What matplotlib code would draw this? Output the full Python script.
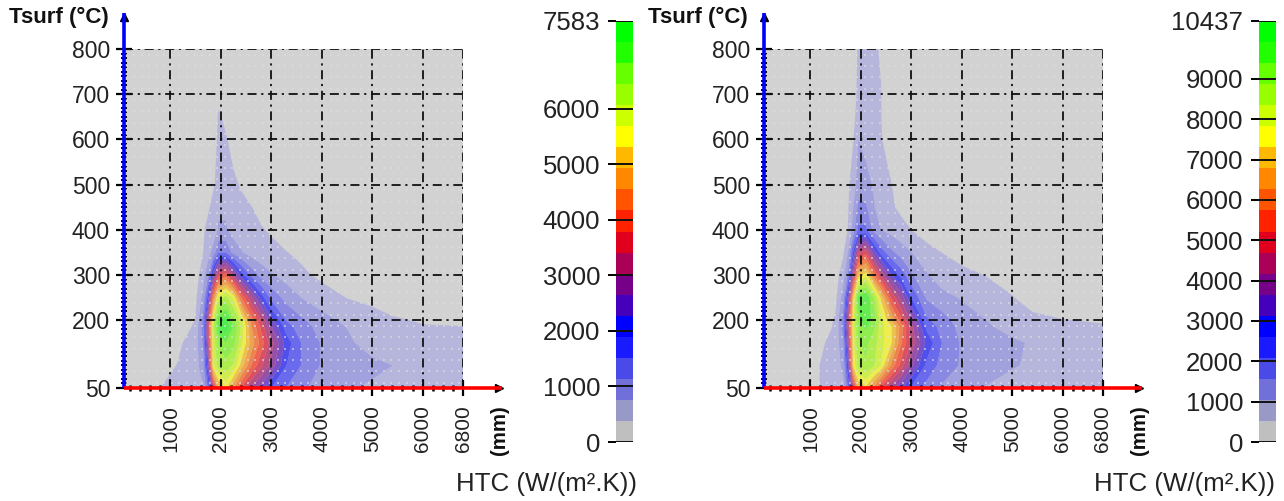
import numpy as np
import matplotlib
matplotlib.use('Agg')
import matplotlib.pyplot as plt

plt.rcParams['font.family'] = ['Liberation Sans', 'DejaVu Sans']

W, H = 1284, 501

# HTC columns, Tsurf rows of the maps
htc = [80, 800, 1150, 1500, 1650, 1750, 1850, 1950, 2100, 2250, 2400, 2600, 2800, 3000, 3300, 3600, 4000, 4500, 5000, 5400, 6000, 6800]
tsurf = [50, 100, 150, 185, 200, 250, 300, 350, 400, 450, 500, 600, 650, 700, 800]

# counts, in hundreds
left_counts = [
    [0, 3.8, 4.5, 5.5, 7.5, 16, 33, 48, 54, 46, 38, 30, 25, 19, 15, 12, 10, 8, 7, 6, 5, 5],
    [0, 2, 4, 6, 10, 26, 56, 62, 63, 60, 52, 42, 35, 29, 19, 15, 11, 9.5, 8.5, 7.6, 5, 5],
    [0, 0, 3, 6, 12, 32, 58, 65, 68, 66, 58, 48, 40, 32, 21, 15, 11, 8.3, 6, 5, 4.5, 4.5],
    [0, 0, 1.5, 4.5, 14, 35, 60, 71, 75, 68, 60, 46, 37, 27, 17, 13, 10, 7.5, 5.5, 4.5, 4, 3.9],
    [0, 0, 0.5, 4, 13, 34, 58, 70, 74, 66, 58, 44, 34, 24, 15, 12, 9, 6.5, 5, 4.2, 3.5, 3],
    [0, 0, 0, 3, 9, 21, 44, 58, 62, 56, 42, 31, 21, 14, 10, 7.5, 5.5, 3.7, 3, 2, 1, 0],
    [0, 0, 0, 2, 6, 11, 25, 36, 40, 30, 21, 14, 10, 8, 6, 4.5, 3, 1, 0, 0, 0, 0],
    [0, 0, 0, 1, 3.8, 6, 9, 15, 15, 10, 8, 6, 5, 4.5, 3.9, 3, 1, 0, 0, 0, 0, 0],
    [0, 0, 0, 0.5, 3.5, 4.5, 5.5, 8, 8, 6, 5, 4.5, 4, 3.5, 2, 0, 0, 0, 0, 0, 0, 0],
    [0, 0, 0, 0, 2.5, 3.5, 4.5, 7, 7, 4.8, 4.3, 3.9, 3, 1, 0, 0, 0, 0, 0, 0, 0, 0],
    [0, 0, 0, 0, 1, 2.5, 3.5, 4.5, 5, 4.2, 3.6, 2.5, 1, 0, 0, 0, 0, 0, 0, 0, 0, 0],
    [0, 0, 0, 0, 0, 1, 2, 4.5, 4, 3, 1, 0, 0, 0, 0, 0, 0, 0, 0, 0, 0, 0],
    [0, 0, 0, 0, 0, 0, 1, 4.2, 3.2, 1, 0, 0, 0, 0, 0, 0, 0, 0, 0, 0, 0, 0],
    [0, 0, 0, 0, 0, 0, 0, 3, 2, 0, 0, 0, 0, 0, 0, 0, 0, 0, 0, 0, 0, 0],
    [0, 0, 0, 0, 0, 0, 0, 0, 0, 0, 0, 0, 0, 0, 0, 0, 0, 0, 0, 0, 0, 0],
]

# same for the right map
right_counts = [
    [0, 2, 5, 7.5, 9, 22, 45, 68, 72, 62, 50, 40, 32, 25, 19, 15, 12.5, 10.2, 8, 7, 6.5, 6.5],
    [0, 1, 5, 7.5, 12, 32, 74, 85, 88, 84, 78, 62, 50, 38, 25, 19, 15, 12, 11, 9.5, 6.5, 6.5],
    [0, 0, 4, 7, 15, 40, 76, 88, 90, 86, 80, 74, 58, 46, 30, 21, 15, 12, 11.2, 10, 6.5, 6.5],
    [0, 0, 2, 6, 18, 45, 78, 90, 95, 90, 80, 74, 60, 44, 25, 19, 14, 11, 9, 7, 6.2, 6],
    [0, 0, 1, 6, 18, 45, 78, 92, 98, 92, 80, 68, 54, 40, 22, 18, 13, 10.4, 8, 6.5, 5.5, 4.5],
    [0, 0, 0, 4, 13, 34, 72, 96, 100, 88, 72, 52, 40, 26, 15, 12, 10, 7.5, 5.5, 3, 0, 0],
    [0, 0, 0, 3, 8, 17, 44, 70, 76, 60, 46, 32, 24, 16.5, 11, 8, 6.5, 5, 3, 0, 0, 0],
    [0, 0, 0, 2, 4.5, 11, 27, 46, 50, 34, 24, 17, 13, 10.5, 7, 5.2, 3.5, 1, 0, 0, 0, 0],
    [0, 0, 0, 1, 3, 5.5, 13, 22, 22, 14, 10.4, 8.5, 7, 5.2, 3, 1, 0, 0, 0, 0, 0, 0],
    [0, 0, 0, 0, 2, 5, 10.5, 17, 16.5, 11, 8, 6, 4, 2, 0, 0, 0, 0, 0, 0, 0, 0],
    [0, 0, 0, 0, 1.5, 4.5, 8, 13, 12, 10, 7, 5.4, 3, 1, 0, 0, 0, 0, 0, 0, 0, 0],
    [0, 0, 0, 0, 1, 3, 5, 10.5, 9, 7, 5.5, 3, 1, 0, 0, 0, 0, 0, 0, 0, 0, 0],
    [0, 0, 0, 0, 0, 1.5, 3.5, 8, 7, 6, 5.3, 2.5, 0, 0, 0, 0, 0, 0, 0, 0, 0, 0],
    [0, 0, 0, 0, 0, 1, 2.5, 7, 6.5, 5.8, 5.3, 2, 0, 0, 0, 0, 0, 0, 0, 0, 0, 0],
    [0, 0, 0, 0, 0, 0.5, 2, 6, 6, 5.6, 5, 1.5, 0, 0, 0, 0, 0, 0, 0, 0, 0, 0],
]

# bands, lowest first
band_colors = ['#bfbfbf', '#9999c8', '#7070d8', '#4a4ae8', '#1a1aff', '#0000ff', '#4400bb', '#770088', '#aa0055', '#e0001e',
               '#ff2200', '#ff5500', '#ff8800', '#ffb800', '#ffff00', '#ccff00', '#99ff00', '#66ff00', '#22ff00', '#00ff00']
# the lowest bands look bluer once laid on the grey
map_colors = ['#bfbfbf', '#a6a6e4', '#8484e6', '#5c5cee', '#2a2aff'] + band_colors[5:]

x_ticks = [1000, 2000, 3000, 4000, 5000, 6000, 6800]
y_ticks = [50, 200, 300, 400, 500, 600, 700, 800]
left_bar_ticks = [0, 1000, 2000, 3000, 4000, 5000, 6000, 7583]
right_bar_ticks = [0, 1000, 2000, 3000, 4000, 5000, 6000, 7000, 8000, 9000, 10437]

fig = plt.figure(figsize=(W / 100, H / 100), dpi=100)


def box(x0, y0, x1, y1):
    return [x0 / W, 1 - y1 / H, (x1 - x0) / W, (y1 - y0) / H]


def draw_map(x0, counts, vmax):
    ax = fig.add_axes(box(x0, 49, x0 + 339, 388))
    ax.set_facecolor('#d2d2d2')
    levels = np.linspace(0, vmax, 21)
    z = np.array(counts) * 100
    ax.contourf(htc, tsurf, z, levels=levels[1:], colors=map_colors[1:], alpha=0.62, antialiased=True, zorder=1)

    # sample points show through as faint dots
    px, py = np.meshgrid(np.arange(130, 6800, 150), np.arange(62, 800, 25))
    ax.scatter(px, py, s=2, marker='s', color='#dedede', alpha=0.6, linewidths=0, zorder=2)

    ax.set_xlim(80, 6800)
    ax.set_ylim(50, 800)
    for s in ax.spines.values():
        s.set_visible(False)

    dash = (0, (5, 2.6, 1.2, 2.6))
    ax.vlines(x_ticks, 50, 800, color='#111111', lw=1.3, linestyle=dash, zorder=3)
    ax.hlines(y_ticks[1:], 80, 6800, color='#111111', lw=1.3, linestyle=dash, zorder=3)

    ax.set_xticks(x_ticks)
    ax.set_yticks(y_ticks)
    ax.set_xticks(np.arange(200, 6800, 200), minor=True)
    ax.set_yticks(np.arange(60, 800, 10), minor=True)
    ax.tick_params(axis='x', which='major', direction='inout', length=11, width=1.6, labelsize=15, labelrotation=90, pad=7)
    ax.tick_params(axis='y', which='major', direction='inout', length=12, width=1.6, labelsize=16.5, pad=4)
    ax.tick_params(axis='x', which='minor', direction='inout', length=4, width=1.8)
    ax.tick_params(axis='y', which='minor', direction='inout', length=4.5, width=1.4)
    for t in ax.get_xticklabels() + ax.get_yticklabels():
        t.set_color('#222222')

    # the arrows of both axes run past the plot
    ax.plot([1.105], [0], marker='>', ms=5.5, color='black', transform=ax.transAxes, clip_on=False, zorder=5)
    ax.plot([0], [1.095], marker='^', ms=5.5, color='black', transform=ax.transAxes, clip_on=False, zorder=5)
    ax.plot([0, 0], [0, 1.105], color='#0000ff', lw=2.6, transform=ax.transAxes, clip_on=False, zorder=6, solid_capstyle='butt')
    ax.plot([0, 1.115], [0, 0], color='#ff0000', lw=2.6, transform=ax.transAxes, clip_on=False, zorder=7, solid_capstyle='butt')
    return ax


def draw_bar(x0, vmax, ticks):
    ax = fig.add_axes(box(x0, 21, x0 + 17, 442))
    edges = np.linspace(0, vmax, 21)
    ax.bar(np.zeros(20), np.diff(edges), bottom=edges[:-1], width=1, color=band_colors, linewidth=0)
    ax.hlines(ticks, -0.5, 0.5, color='#111111', lw=1.4, zorder=3)
    ax.set_xlim(-0.5, 0.5)
    ax.set_ylim(0, vmax)
    ax.set_xticks([])
    ax.set_yticks(ticks)
    ax.tick_params(axis='y', direction='out', length=5.8, width=1.4, labelsize=18.5, pad=5.5, labelcolor='#222222')
    for s in ax.spines.values():
        s.set_visible(False)
    return ax


draw_map(124, left_counts, 7583)
draw_map(764, right_counts, 10437)
draw_bar(616, 7583, left_bar_ticks)
draw_bar(1259, 10437, right_bar_ticks)

for tx, mx, hx in [(9, 499, 456), (648, 1139, 1094)]:
    fig.text(tx / W, 1 - 17 / H, 'Tsurf (°C)', fontsize=16, fontweight='bold', va='center', ha='left', color='#111111')
    fig.text(mx / W, 1 - 430 / H, '(mm)', fontsize=14.8, fontweight='bold', rotation=90, va='center', ha='center', color='#111111')
    fig.text(hx / W, 1 - 484 / H, 'HTC (W/(m².K))', fontsize=18.6, va='center', ha='left', color='#222222')

fig.savefig('out.png', dpi=100)
